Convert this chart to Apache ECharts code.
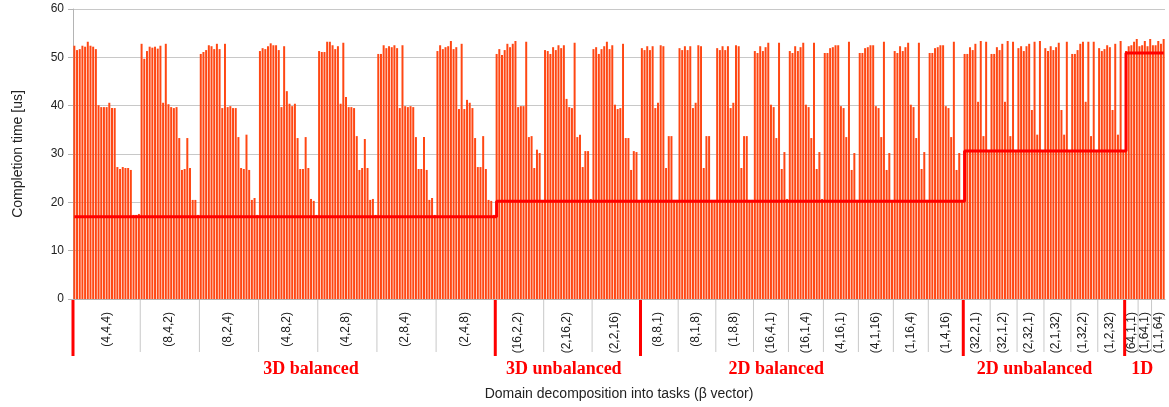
<!DOCTYPE html>
<html>
<head>
<meta charset="utf-8">
<script src="https://cdn.jsdelivr.net/npm/echarts@6/dist/echarts.min.js"></script>
<style>
  html, body { margin: 0; padding: 0; background: #fff; }
  #chart { width: 1169px; height: 407px; }
</style>
</head>
<body>
<div id="chart"></div>
<script>
// sections of the beta vector study
const sectionNames = ['3D balanced', '3D unbalanced', '2D balanced', '2D unbalanced', '1D']
const sectionLevel = [17.0, 20.25, 20.25, 30.6, 50.9]   // red reference line per section
const sectionLabelAt = [88, 182, 261, 357, 397]          // bar under each section title

const bal3DNames = ['(4,4,4)', '(8,4,2)', '(8,2,4)', '(4,8,2)', '(4,2,8)', '(2,8,4)', '(2,4,8)']
const bal3D = [
  [52.4, 51.5, 51.7, 52.4, 52.2, 53.2, 52.4, 52.2, 51.7, 40.1, 39.7, 39.7, 39.7, 40.6, 39.5, 39.5, 27.3, 26.9, 27.3, 27.1, 27.1, 26.7, 17.4, 17.4, 17.6],
  [52.8, 49.7, 51.3, 52.2, 52.0, 52.2, 51.8, 52.4, 40.6, 52.8, 40.3, 39.7, 39.5, 39.7, 33.3, 26.7, 26.9, 33.3, 27.1, 20.5, 20.5, 17.4],
  [50.7, 51.1, 51.5, 52.5, 52.3, 51.7, 52.8, 51.7, 39.5, 52.8, 39.7, 39.9, 39.5, 39.5, 33.5, 27.1, 26.9, 34.0, 26.7, 20.5, 20.9, 17.4],
  [51.3, 51.9, 51.7, 52.3, 52.9, 52.5, 52.5, 51.5, 39.7, 52.3, 43.0, 40.4, 39.9, 40.4, 33.3, 26.9, 26.9, 33.5, 27.1, 20.7, 20.3, 17.4],
  [51.3, 51.1, 51.1, 53.2, 53.2, 52.5, 51.7, 52.3, 40.4, 53.0, 41.8, 39.7, 39.7, 39.5, 33.7, 26.7, 27.1, 33.1, 27.1, 20.5, 20.7, 17.4],
  [50.7, 50.7, 52.5, 51.9, 52.3, 52.1, 52.5, 51.9, 39.5, 52.5, 39.9, 39.7, 39.9, 39.7, 33.5, 26.9, 26.9, 33.5, 26.7, 20.5, 20.9, 17.4],
  [51.3, 52.5, 51.7, 52.1, 52.3, 53.4, 51.7, 52.1, 39.3, 52.8, 39.3, 41.2, 40.6, 39.5, 33.3, 27.3, 27.3, 33.7, 26.9, 20.5, 20.3, 17.4]
]

const unbal3DNames = ['(16,2,2)', '(2,16,2)', '(2,2,16)']
const unbal3D = [
  [50.7, 51.7, 50.5, 51.5, 52.8, 52.1, 52.8, 53.4, 39.7, 39.9, 39.9, 53.2, 33.5, 33.7, 27.1, 30.9, 30.2, 20.4],
  [51.5, 51.3, 50.7, 52.1, 51.5, 52.5, 51.9, 52.5, 41.4, 39.7, 39.5, 53.0, 33.5, 34.0, 27.3, 30.6, 30.6, 20.7],
  [51.7, 52.1, 50.7, 51.7, 52.3, 53.2, 51.7, 52.5, 40.2, 39.3, 39.5, 52.8, 33.3, 33.3, 26.7, 30.6, 30.4, 20.4]
]

const bal2DNames = ['(8,8,1)', '(8,1,8)', '(1,8,8)', '(16,4,1)', '(16,1,4)', '(4,16,1)', '(4,1,16)', '(1,16,4)', '(1,4,16)']
const bal2D = [
  [51.9, 51.5, 52.3, 51.5, 52.3, 39.5, 40.6, 52.5, 52.3, 27.1, 33.7, 33.7, 20.5, 20.5],
  [51.9, 51.5, 52.3, 51.5, 52.3, 39.5, 40.6, 52.5, 52.3, 27.1, 33.7, 33.7, 20.5, 20.5],
  [51.9, 51.5, 52.3, 51.5, 52.3, 39.5, 40.6, 52.5, 52.3, 27.1, 33.7, 33.7, 20.5, 20.5],
  [51.3, 50.9, 52.3, 51.3, 52.1, 53.0, 40.2, 39.7, 33.3, 53.0, 26.9, 30.4, 20.7],
  [51.3, 50.9, 52.3, 51.3, 52.1, 53.0, 40.2, 39.7, 33.3, 53.0, 26.9, 30.4, 20.7],
  [50.9, 50.9, 51.9, 52.1, 52.5, 52.5, 39.9, 39.5, 33.5, 53.2, 26.7, 30.2, 20.5],
  [50.9, 50.9, 51.9, 52.1, 52.5, 52.5, 39.9, 39.5, 33.5, 53.2, 26.7, 30.2, 20.5],
  [51.3, 50.9, 52.3, 51.3, 52.1, 53.0, 40.2, 39.7, 33.3, 53.0, 26.9, 30.4, 20.5],
  [50.9, 50.9, 51.9, 52.1, 52.5, 52.5, 39.9, 39.5, 33.5, 53.2, 26.7, 30.2, 20.5]
]

const unbal2DNames = ['(32,2,1)', '(32,1,2)', '(2,32,1)', '(2,1,32)', '(1,32,2)', '(1,2,32)']
const unbal2D = [
  [50.7, 50.7, 52.1, 51.5, 52.8, 40.8, 53.4, 33.7, 53.2, 30.7],
  [50.7, 50.7, 52.1, 51.5, 52.8, 40.8, 53.4, 33.7, 53.2, 30.7],
  [51.9, 52.3, 51.3, 52.3, 52.8, 39.1, 53.2, 34.0, 53.4, 30.7],
  [51.9, 51.3, 52.3, 51.5, 52.1, 53.0, 39.1, 34.0, 53.2, 30.7],
  [50.7, 50.7, 51.5, 52.8, 53.2, 40.8, 53.2, 33.7, 53.2, 30.7],
  [51.9, 51.3, 51.7, 52.5, 52.1, 39.1, 52.8, 34.0, 53.4, 30.7]
]

const oneDNames = ['(64,1,1)', '(1,64,1)', '(1,1,64)']
const oneD = [
  [51.3, 52.3, 52.5, 53.2, 53.8],
  [52.3, 52.5, 53.4, 52.3, 53.8],
  [52.5, 52.5, 53.4, 52.8, 53.8]
]

const sections = [
  [bal3DNames, bal3D],
  [unbal3DNames, unbal3D],
  [bal2DNames, bal2D],
  [unbal2DNames, unbal2D],
  [oneDNames, oneD]
]

// flatten into one category per bar
const times = []
const refLine = []
const groupLabelAt = {}
const separators = []   // [bar index, 1 = section edge / 0 = group edge]
sections.forEach(([names, groups], s) => {
  groups.forEach((vals, g) => {
    const start = times.length
    separators.push([start, g === 0 ? 1 : 0])
    groupLabelAt[start + Math.floor((vals.length - 1) / 2)] = names[g]
    vals.forEach(v => {
      times.push(v)
      refLine.push(sectionLevel[s])
    })
  })
})
const cats = times.map((_, i) => String(i))
const titleAt = {}
sectionLabelAt.forEach((idx, s) => { titleAt[idx] = sectionNames[s] })

const sans = 'Liberation Sans, Arial, sans-serif'
const chart = echarts.init(document.getElementById('chart'))

const option = {
  animation: false,
  backgroundColor: '#fff',
  grid: { left: 73, right: 4, top: 9, bottom: 108 },
  xAxis: [
    {
      type: 'category',
      data: cats,
      position: 'bottom',
      axisLine: { lineStyle: { color: '#b4b4b4' } },
      axisTick: { interval: 0, length: 8, lineStyle: { color: '#c4c4c4' } },
      axisLabel: {
        interval: (i) => groupLabelAt[i] !== undefined,
        formatter: (v) => groupLabelAt[+v] || '',
        rotate: 90,
        margin: 13,
        fontSize: 12,
        color: '#222',
        fontFamily: sans
      },
      splitLine: { show: false },
      name: 'Domain decomposition into tasks (β vector)',
      nameLocation: 'middle',
      nameGap: 88,
      nameTextStyle: { fontSize: 14, color: '#222', fontFamily: sans }
    },
    {
      type: 'category',
      data: cats,
      position: 'bottom',
      axisLine: { show: false },
      axisTick: { show: false },
      axisLabel: {
        interval: (i) => titleAt[i] !== undefined,
        formatter: (v) => titleAt[+v] || '',
        margin: 61,
        fontSize: 18,
        fontWeight: 'bold',
        color: '#ff0000',
        fontFamily: 'Liberation Serif, Times New Roman, serif'
      }
    }
  ],
  yAxis: {
    type: 'value',
    min: 0,
    max: 60,
    interval: 10,
    axisLine: { show: true, lineStyle: { color: '#b4b4b4' } },
    axisTick: { show: true, length: 5, lineStyle: { color: '#b4b4b4' } },
    axisLabel: { fontSize: 12, color: '#222', margin: 9, fontFamily: sans },
    splitLine: { lineStyle: { color: '#c8c8c8' } },
    name: 'Completion time [us]',
    nameLocation: 'middle',
    nameGap: 48,
    nameTextStyle: { fontSize: 14, color: '#222', fontFamily: sans }
  },
  series: [
    {
      type: 'bar',
      data: times,
      barCategoryGap: '26%',
      itemStyle: { color: '#ff4713' },
      silent: true
    },
    {
      type: 'line',
      data: refLine,
      step: 'end',
      symbol: 'none',
      lineStyle: { color: '#ff0000', width: 3 },
      z: 5,
      silent: true
    },
    {
      // group / section separators below the axis
      type: 'custom',
      data: separators,
      clip: false,
      silent: true,
      z: 6,
      renderItem: (params, api) => {
        const idx = api.value(0)
        const edge = api.value(1)
        const half = api.size([1, 0])[0] / 2
        const p = api.coord([idx, 0])
        const x = p[0] - half
        return {
          type: 'line',
          shape: { x1: x, y1: p[1] + 1, x2: x, y2: p[1] + (edge ? 57 : 53) },
          style: { stroke: edge ? '#ff0000' : '#c8c8c8', lineWidth: edge ? 3 : 1 }
        }
      }
    }
  ]
}

chart.setOption(option)
window.addEventListener('resize', () => chart.resize())
</script>
</body>
</html>
